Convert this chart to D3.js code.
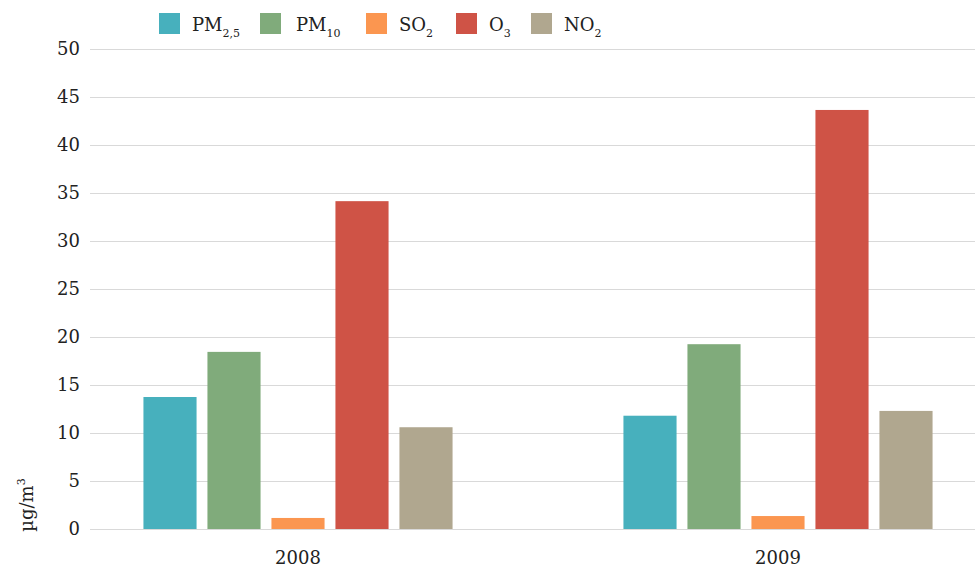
<!DOCTYPE html>
<html><head><meta charset="utf-8">
<script src="https://cdn.jsdelivr.net/npm/d3@7"></script>
<style>body{margin:0;background:#fff}svg{display:block;font-family:"DejaVu Serif",serif}</style>
</head><body><svg id="c" width="975" height="568"></svg>
<script>
const years = ["2008", "2009"];
const series = ["PM2.5", "PM10", "SO2", "O3", "NO2"];
const seriesMain = ["PM", "PM", "SO", "O", "NO"];
const seriesSub = ["2,5", "10", "2", "3", "2"];
const colors = ["#47b0bd", "#80ab7b", "#fb9650", "#cf5346", "#b0a78f"];
const values2008 = [13.75, 18.45, 1.15, 34.15, 10.6];
const values2009 = [11.8, 19.25, 1.35, 43.65, 12.3];
const yTicks = [0, 5, 10, 15, 20, 25, 30, 35, 40, 45, 50];

const valuesByYear = {"2008": values2008, "2009": values2009};
const svg = d3.select("#c");
const y = d3.scaleLinear().domain([0, 50]).range([529, 49]);
const x0 = d3.scaleBand().domain(years).range([58, 1018]);
const x1 = d3.scaleBand().domain(series).range([0, 320]).paddingInner(0.17).paddingOuter(0.085);

svg.append("g").selectAll("line").data(yTicks).join("line")
  .attr("x1", 90).attr("x2", 975)
  .attr("y1", d => y(d) + 0.5).attr("y2", d => y(d) + 0.5)
  .attr("stroke", "#d9d9d9").attr("stroke-width", 1);

svg.append("g").selectAll("text").data(yTicks).join("text")
  .attr("x", 80).attr("y", d => y(d)).attr("dy", "0.35em")
  .attr("text-anchor", "end").attr("font-size", 18).attr("fill", "#222")
  .text(d => d);

const g = svg.append("g").selectAll("g").data(years).join("g")
  .attr("transform", d => `translate(${x0(d) + x0.bandwidth() / 2 - 160},0)`);
g.selectAll("rect").data(yr => series.map((s, i) => ({s, i, v: valuesByYear[yr][i]}))).join("rect")
  .attr("x", d => x1(d.s)).attr("width", x1.bandwidth())
  .attr("y", d => y(d.v)).attr("height", d => y(0) - y(d.v))
  .attr("fill", d => colors[d.i]);

svg.append("g").selectAll("text").data(years).join("text")
  .attr("x", d => x0(d) + x0.bandwidth() / 2).attr("y", 564)
  .attr("text-anchor", "middle").attr("font-size", 18).attr("fill", "#222")
  .text(d => d);

svg.append("text").attr("transform", "translate(33,505) rotate(-90)")
  .attr("text-anchor", "middle").attr("font-size", 18).attr("fill", "#222")
  .call(t => { t.append("tspan").text("µg/m"); t.append("tspan").attr("font-size", 11).attr("dy", -8).text("3"); });

const legX = [159, 260, 366, 456, 531];
const legOff = [33, 36, 33, 33, 33];
const leg = svg.append("g").selectAll("g").data(series).join("g")
  .attr("transform", (d, i) => `translate(${legX[i]},13)`);
leg.append("rect").attr("width", 21).attr("height", 21).attr("fill", (d, i) => colors[i]);
leg.append("text").attr("x", (d, i) => legOff[i]).attr("y", 18).attr("font-size", 18).attr("fill", "#222")
  .call(t => t.each(function(d, i) {
    const s = d3.select(this);
    s.append("tspan").text(seriesMain[i]);
    s.append("tspan").attr("font-size", 11).attr("dy", 6).text(seriesSub[i]);
  }));
</script></body></html>
